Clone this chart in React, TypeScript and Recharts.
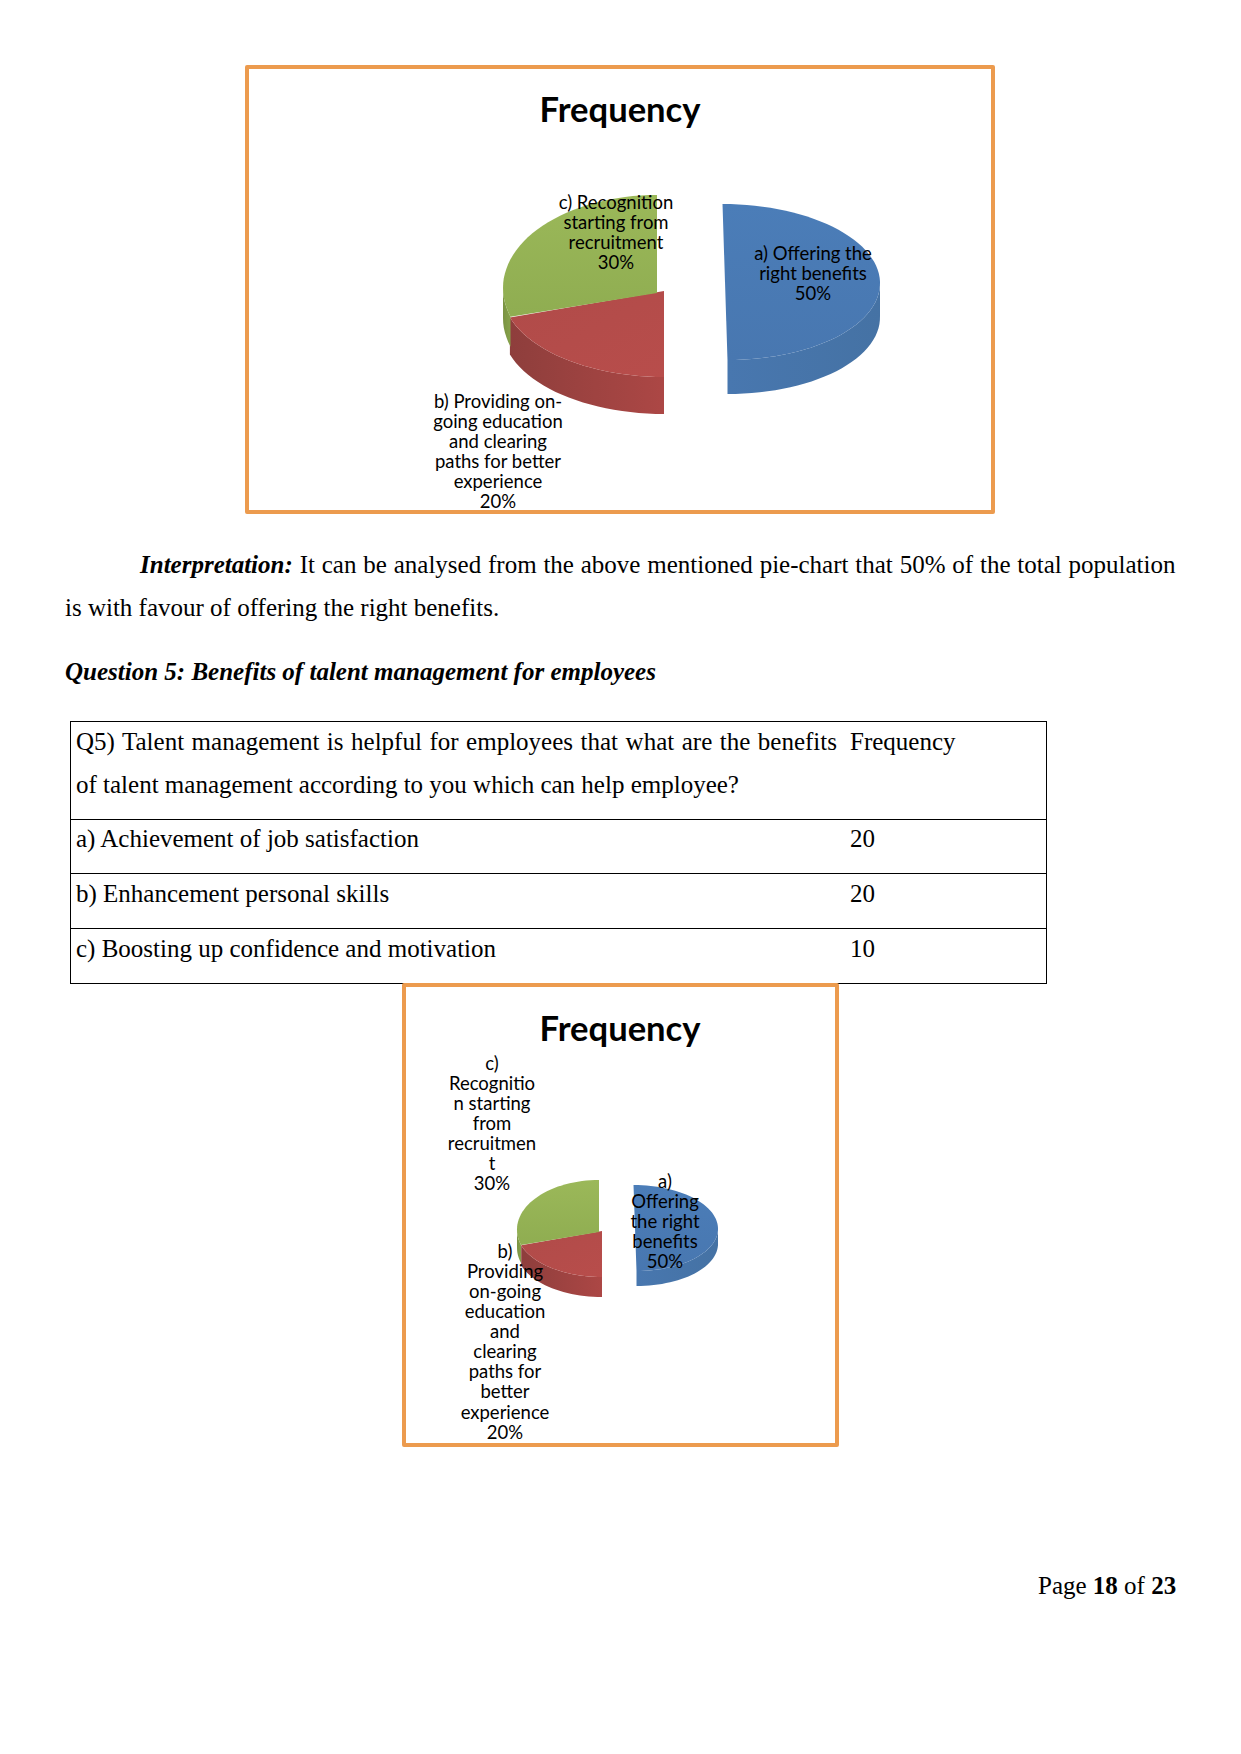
import { PieChart, Pie } from 'recharts';

const categories = [
  'a) Offering the right benefits',
  'b) Providing on-going education and clearing paths for better experience',
  'c) Recognition starting from recruitment',
];
const frequency = [50, 20, 30];
const sliceColors = ['#4A7CB6', '#B64D4B', '#96B355'];

const tableRows = [
  ['a) Achievement of job satisfaction', '20'],
  ['b) Enhancement personal skills', '20'],
  ['c) Boosting up confidence and motivation', '10'],
];

const wrapWide = [
  ['a) Offering the', 'right benefits'],
  ['b) Providing on-', 'going education', 'and clearing', 'paths for better', 'experience'],
  ['c) Recognition', 'starting from', 'recruitment'],
];
const wrapNarrow = [
  ['a)', 'Offering', 'the right', 'benefits'],
  ['b)', 'Providing', 'on-going', 'education', 'and', 'clearing', 'paths for', 'better', 'experience'],
  ['c)', 'Recognitio', 'n starting', 'from', 'recruitmen', 't'],
];

const rows = categories.map((name, i) => ({ name, value: frequency[i], fill: sliceColors[i] }));

const SERIF = '"Liberation Serif", serif';
const LABEL_FONT = 'Lato, sans-serif';
const BORDER = '#EC9B4E';

// geometry of the flattened 3d slices, page coordinates relative to the frame
const layouts = {
  wide: {
    id: 'w',
    frame: { left: 245, top: 65, width: 750, height: 449 },
    titleX: 375,
    titleY: 56.5,
    wrap: wrapWide,
    slices: [
      { cx: 480, cy: 217, rx: 155, ry: 78, depth: 34, skew: 0.032, apexY: 217 },
      { cx: 419, cy: 226, rx: 162, ry: 86, depth: 37, skew: 0, apexY: 226 },
      { cx: 412, cy: 223, rx: 154, ry: 93, depth: 30, skew: 0, apexY: 228 },
    ],
    labels: [
      { x: 568, y: 195.2 },
      { x: 253, y: 342.7 },
      { x: 371, y: 143.5 },
    ],
  },
  narrow: {
    id: 'n',
    frame: { left: 402, top: 983, width: 437, height: 464 },
    titleX: 218,
    titleY: 58,
    wrap: wrapNarrow,
    slices: [
      { cx: 233, cy: 245, rx: 83, ry: 43, depth: 15, skew: 0.034, apexY: 245 },
      { cx: 200, cy: 248, rx: 85, ry: 46, depth: 20, skew: 0, apexY: 248 },
      { cx: 197, cy: 246.6, rx: 82, ry: 49.6, depth: 18, skew: 0, apexY: 249 },
    ],
    labels: [
      { x: 263, y: 204.7 },
      { x: 103, y: 274.7 },
      { x: 90, y: 86.5 },
    ],
  },
};

type Layout = typeof layouts.wide;

function arc(g: any, from: number, to: number, drop = 0) {
  const pts: string[] = [];
  const steps = Math.max(2, Math.ceil(Math.abs(to - from) / 3));
  for (let i = 0; i <= steps; i++) {
    const a = ((from + ((to - from) * i) / steps) * Math.PI) / 180;
    const dy = -g.ry * Math.sin(a);
    pts.push(`${(g.cx + g.rx * Math.cos(a) + g.skew * dy).toFixed(1)} ${(g.cy + dy + drop).toFixed(1)}`);
  }
  return pts;
}

function makeSlice(layout: Layout) {
  return (props: any) => {
    const i = categories.indexOf(props.name);
    const g = layout.slices[i];
    const wallFrom = Math.min(props.startAngle, 0);
    const wallTo = Math.max(props.endAngle, -180);
    const wall = wallFrom > wallTo
      ? `M${arc(g, wallFrom, wallTo).join('L')}L${arc(g, wallTo, wallFrom, g.depth).join('L')}Z`
      : null;
    const top = `M${g.cx} ${g.apexY}L${arc(g, props.startAngle, props.endAngle).join('L')}Z`;
    return (
      <g>
        {wall && <path d={wall} fill={`url(#${layout.id}-wall-${i})`} />}
        <path d={top} fill={`url(#${layout.id}-top-${i})`} />
      </g>
    );
  };
}

function makeLabel(layout: Layout) {
  return (props: any) => {
    const i = categories.indexOf(props.name);
    const pos = layout.labels[i];
    const lines = [...layout.wrap[i], `${Math.round(props.percent * 100)}%`];
    return (
      <text
        key={props.name}
        x={pos.x}
        y={pos.y}
        textAnchor="middle"
        fontFamily={LABEL_FONT}
        fontSize={18.5}
        fill="#000"
      >
        {lines.map((t, k) => (
          <tspan key={k} x={pos.x} y={pos.y + k * 20.1}>
            {t}
          </tspan>
        ))}
      </text>
    );
  };
}

function FrequencyPie({ layout }: { layout: Layout }) {
  const { frame, id } = layout;
  return (
    <div
      style={{
        position: 'absolute',
        left: frame.left,
        top: frame.top,
        width: frame.width,
        height: frame.height,
        boxSizing: 'border-box',
        border: `4px solid ${BORDER}`,
        borderRadius: 2,
        background: '#fff',
      }}
    >
      <div style={{ position: 'absolute', left: -4, top: -4 }}>
        <PieChart width={frame.width} height={frame.height} margin={{ top: 0, right: 0, bottom: 0, left: 0 }}>
          <defs>
            <linearGradient id={`${id}-top-0`} x1="0" y1="0" x2="0" y2="1">
              <stop offset="0" stopColor="#4B7DB8" />
              <stop offset="1" stopColor="#4877B0" />
            </linearGradient>
            <linearGradient id={`${id}-top-1`} x1="0" y1="0" x2="1" y2="1">
              <stop offset="0" stopColor="#B04B49" />
              <stop offset="1" stopColor="#B84D4B" />
            </linearGradient>
            <linearGradient id={`${id}-top-2`} x1="0" y1="0" x2="0" y2="1">
              <stop offset="0" stopColor="#9BB859" />
              <stop offset="1" stopColor="#8FAD51" />
            </linearGradient>
            <linearGradient id={`${id}-wall-0`} x1="0" y1="0" x2="1" y2="0">
              <stop offset="0" stopColor="#4877AF" />
              <stop offset="1" stopColor="#4572A4" />
            </linearGradient>
            <linearGradient id={`${id}-wall-1`} x1="0" y1="0" x2="1" y2="0">
              <stop offset="0" stopColor="#8E3E3C" />
              <stop offset="1" stopColor="#AC4745" />
            </linearGradient>
            <linearGradient id={`${id}-wall-2`} x1="0" y1="0" x2="1" y2="0">
              <stop offset="0" stopColor="#7A9343" />
              <stop offset="1" stopColor="#86A24B" />
            </linearGradient>
          </defs>
          <text
            x={layout.titleX}
            y={layout.titleY}
            textAnchor="middle"
            fontFamily={LABEL_FONT}
            fontWeight={700}
            fontSize={34.6}
            fill="#000"
          >
            Frequency
          </text>
          <Pie
            data={rows}
            dataKey="value"
            nameKey="name"
            cx={layout.slices[1].cx}
            cy={layout.slices[1].cy}
            outerRadius={layout.slices[1].rx}
            startAngle={90}
            endAngle={-270}
            stroke="none"
            shape={makeSlice(layout)}
            label={makeLabel(layout)}
            labelLine={false}
            isAnimationActive={false}
          />
        </PieChart>
      </div>
    </div>
  );
}

// one line of page text placed by its baseline
function Line({
  x,
  y,
  width,
  children,
  style,
}: {
  x: number;
  y: number;
  width?: number;
  children: React.ReactNode;
  style?: React.CSSProperties;
}) {
  return (
    <div
      style={{
        position: 'absolute',
        left: x,
        top: y - 23.4,
        width,
        fontFamily: SERIF,
        fontSize: 25,
        lineHeight: '30px',
        color: '#000',
        whiteSpace: width ? 'normal' : 'nowrap',
        textAlign: width ? 'justify' : 'left',
        textAlignLast: width ? 'justify' : 'left',
        ...style,
      }}
    >
      {children}
    </div>
  );
}

function Rule({ x, y, w, h }: { x: number; y: number; w: number; h: number }) {
  return <div style={{ position: 'absolute', left: x, top: y, width: w, height: h, background: '#000' }} />;
}

export default function App() {
  return (
    <div
      style={{
        position: 'absolute',
        left: 0,
        top: 0,
        width: 1241,
        height: 1754,
        background: '#fff',
        overflow: 'hidden',
      }}
    >
      <FrequencyPie layout={layouts.wide} />

      <Line x={140} y={573} width={1035.5}>
        <b>
          <i>Interpretation:</i>
        </b>{' '}
        It can be analysed from the above mentioned pie-chart that 50% of the total population
      </Line>
      <Line x={65} y={616.6}>
        is with favour of offering the right benefits.
      </Line>
      <Line x={65} y={680.6} style={{ fontWeight: 700, fontStyle: 'italic' }}>
        Question 5: Benefits of talent management for employees
      </Line>

      <Rule x={70} y={721} w={977} h={1} />
      <Rule x={70} y={819} w={977} h={1} />
      <Rule x={70} y={873} w={977} h={1} />
      <Rule x={70} y={928} w={977} h={1} />
      <Rule x={70} y={983} w={977} h={1} />
      <Rule x={70} y={721} w={1} h={263} />
      <Rule x={1046} y={721} w={1} h={263} />

      <Line x={76} y={750} width={761}>
        Q5) Talent management is helpful for employees that what are the benefits
      </Line>
      <Line x={76} y={793}>
        of talent management according to you which can help employee?
      </Line>
      <Line x={850} y={750}>
        Frequency
      </Line>
      {tableRows.map(([label, count], i) => (
        <div key={label}>
          <Line x={76} y={847 + i * 55}>
            {label}
          </Line>
          <Line x={850} y={847 + i * 55}>
            {count}
          </Line>
        </div>
      ))}

      <FrequencyPie layout={layouts.narrow} />

      <Line x={1038} y={1594}>
        Page <b>18</b> of <b>23</b>
      </Line>
    </div>
  );
}
